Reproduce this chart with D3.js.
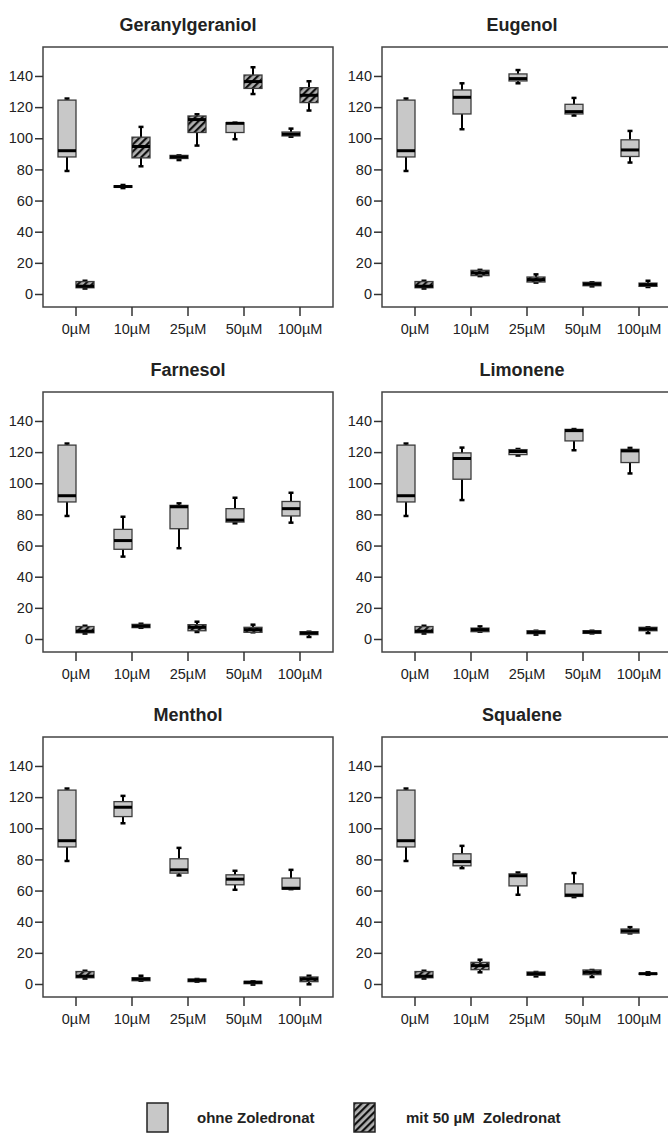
<!DOCTYPE html>
<html>
<head>
<meta charset="utf-8">
<script src="https://cdn.jsdelivr.net/npm/d3@7"></script>
<style>
body { margin: 0; background: #fff; }
svg { display: block; font-family: "Liberation Sans", Arial, sans-serif; }
</style>
</head>
<body>
<svg id="chart" width="668" height="1135"></svg>
<script>
// categories
var doses = ["0µM", "10µM", "25µM", "50µM", "100µM"],
	titles = ["Geranylgeraniol", "Eugenol", "Farnesol", "Limonene", "Menthol", "Squalene"],
	yTicks = [0, 20, 40, 60, 80, 100, 120, 140];

// box values per dose: [min, q1, median, q3, max]
// "ohne" = ohne Zoledronat (grey), "mit" = mit 50 µM Zoledronat (hatched)
var geranylOhne = [[79, 88, 92, 124.5, 125.5], [68, 68.5, 69, 69.5, 70], [86, 87, 88, 89, 89], [99.4, 103.7, 109.6, 110, 110], [101, 101.5, 102.6, 104, 106.2]],
	geranylMit = [[3.5, 4, 5, 8, 8.5], [82, 87.4, 94.7, 100.7, 107.3], [95.3, 103.7, 112, 114.3, 115.4], [128.4, 132, 136.4, 140.6, 145.6], [117.8, 122.9, 127.6, 132.5, 136.6]];

var eugenolOhne = [[79, 88, 92, 124.5, 125.5], [105.8, 115.6, 126.3, 131, 135.3], [135.3, 136.8, 138.3, 141.3, 143.8], [114.6, 115.6, 117.1, 121.8, 125.9], [84.4, 88.3, 92.5, 99, 104.7]],
	eugenolMit = [[3.5, 4, 5, 8, 8.5], [11.5, 11.8, 13.5, 15.2, 15.5], [7.3, 7.7, 9.2, 10.9, 12.6], [4.9, 5.3, 6.4, 7.5, 7.5], [4.5, 4.9, 6, 7, 8.5]];

var farnesolOhne = [[79, 88, 92, 124.5, 125.5], [52.9, 57.6, 63.2, 70.4, 78.5], [58.3, 70.8, 84.9, 85.8, 87.1], [74.3, 75.1, 76.4, 83.7, 90.7], [74.7, 79, 83.7, 88.3, 93.9]],
	farnesolMit = [[3.5, 4, 5, 8, 8.5], [7.2, 7.3, 8.3, 9.4, 9.8], [4.5, 5.3, 7.5, 9.2, 11.1], [4.3, 4.3, 6, 7.5, 9.2], [1.3, 2.8, 3.8, 4.7, 4.7]];

var limoneneOhne = [[79, 88, 92, 124.5, 125.5], [89.2, 102.6, 115.9, 119.5, 122.9], [117.8, 118.4, 120.4, 121.6, 122], [121.2, 127.2, 133.8, 134.6, 134.8], [106.3, 113.3, 120.8, 121.8, 122.7]],
	limoneneMit = [[3.5, 4, 5, 8, 8.5], [4.7, 4.7, 6, 7, 8.1], [2.8, 3.4, 4.3, 5.3, 5.3], [3.6, 3.6, 4.5, 5.3, 5.3], [3.8, 5.3, 6.4, 7.5, 7.5]];

var mentholOhne = [[79, 88, 92, 124.5, 125.5], [103.2, 107.5, 113.5, 117.1, 120.8], [69.7, 71.2, 73.3, 80.4, 87.4], [60.5, 63.7, 67.3, 70.1, 72.7], [60.9, 60.9, 61.5, 68, 73.3]],
	mentholMit = [[3.5, 4, 5, 8, 8.5], [2.1, 2.1, 3.2, 4, 5.3], [1.5, 1.5, 2.4, 3.2, 3.2], [-0.4, 0.2, 1.1, 1.7, 1.7], [-0.2, 1.5, 3.2, 4.5, 5.3]];

var squaleneOhne = [[79, 88, 92, 124.5, 125.5], [74.4, 75.9, 78.6, 83.6, 88.7], [57.3, 63, 69.5, 70.7, 71.6], [55.8, 56.2, 57.1, 64.3, 71.2], [32.5, 32.7, 34, 35.3, 36.5]],
	squaleneMit = [[3.5, 4, 5, 8, 8.5], [7.5, 9.2, 11.8, 13.9, 15.6], [4.9, 5.6, 6.6, 7.7, 7.7], [4.5, 6, 7.5, 9, 9], [6, 6.2, 6.6, 7, 7.5]];

var ohneSets = [geranylOhne, eugenolOhne, farnesolOhne, limoneneOhne, mentholOhne, squaleneOhne],
	mitSets = [geranylMit, eugenolMit, farnesolMit, limoneneMit, mentholMit, squaleneMit];

// layout params
var colLeft = [43, 382],
	rowTop = [47, 392, 737],
	frameW = 290,
	frameH = 260,
	boxW = 18,
	capW = 5,
	greyFill = "#c8c8c8",
	boxStroke = "#3c3c3c";

var svg = d3.select("#chart");

// hatch pattern for the "mit Zoledronat" boxes
var defs = svg.append("defs");
var pat = defs.append("pattern")
	.attr("id", "hatch")
	.attr("patternUnits", "userSpaceOnUse")
	.attr("width", 5)
	.attr("height", 5)
	.attr("patternTransform", "rotate(45)");
pat.append("rect").attr("width", 5).attr("height", 5).attr("fill", "#b0b0b0");
pat.append("line")
	.attr("x1", 1).attr("y1", 0).attr("x2", 1).attr("y2", 5)
	.attr("stroke", "#111").attr("stroke-width", 2.4);

var drawBox = function(g, cx, d, y, fill) {
	var x0 = cx - boxW / 2;
	// whiskers
	g.append("line")
		.attr("x1", cx).attr("x2", cx)
		.attr("y1", y(d[0])).attr("y2", y(d[1]))
		.attr("stroke", "#000").attr("stroke-width", 2);
	g.append("line")
		.attr("x1", cx).attr("x2", cx)
		.attr("y1", y(d[3])).attr("y2", y(d[4]))
		.attr("stroke", "#000").attr("stroke-width", 2);
	[d[0], d[4]].forEach(function(v) {
		g.append("line")
			.attr("x1", cx - capW / 2).attr("x2", cx + capW / 2)
			.attr("y1", y(v)).attr("y2", y(v))
			.attr("stroke", "#000").attr("stroke-width", 2.5);
	});
	// box
	g.append("rect")
		.attr("x", x0)
		.attr("y", y(d[3]))
		.attr("width", boxW)
		.attr("height", Math.max(y(d[1]) - y(d[3]), 1))
		.attr("fill", fill)
		.attr("stroke", boxStroke)
		.attr("stroke-width", 1.3);
	// median
	g.append("line")
		.attr("x1", x0).attr("x2", x0 + boxW)
		.attr("y1", y(d[2])).attr("y2", y(d[2]))
		.attr("stroke", "#000").attr("stroke-width", 3);
};

titles.forEach(function(title, i) {
	var col = i % 2,
		row = Math.floor(i / 2),
		left = colLeft[col],
		top = rowTop[row],
		bottom = top + frameH;

	var x = d3.scaleBand().domain(doses).range([left + 5, left + frameW - 5]);
	var y = d3.scaleLinear().domain([-8.35, 158.6]).range([bottom, top]);

	var g = svg.append("g").attr("class", "panel");

	// title
	g.append("text")
		.attr("x", col == 0 ? 188 : 522)
		.attr("y", top - 16)
		.attr("text-anchor", "middle")
		.attr("font-size", 18)
		.attr("font-weight", "bold")
		.attr("fill", "#222")
		.text(title);

	// frame
	g.append("rect")
		.attr("x", left).attr("y", top)
		.attr("width", frameW).attr("height", frameH)
		.attr("fill", "none")
		.attr("stroke", "#444")
		.attr("stroke-width", 1.5);

	// axes
	var yAxis = g.append("g")
		.attr("transform", "translate(" + left + ",0)")
		.call(d3.axisLeft(y).tickValues(yTicks).tickSize(8).tickPadding(2));
	var xAxis = g.append("g")
		.attr("transform", "translate(0," + bottom + ")")
		.call(d3.axisBottom(x).tickSize(9).tickPadding(8));
	[yAxis, xAxis].forEach(function(a) {
		a.select(".domain").remove();
		a.selectAll("line").attr("stroke", "#333").attr("stroke-width", 1.5);
		a.selectAll("text")
			.attr("font-size", 14.5)
			.attr("font-family", "Liberation Sans, Arial, sans-serif")
			.attr("fill", "#222");
	});

	// boxes
	doses.forEach(function(dose, k) {
		var c = x(dose) + x.bandwidth() / 2;
		drawBox(g, c - boxW / 2, ohneSets[i][k], y, greyFill);
		drawBox(g, c + boxW / 2, mitSets[i][k], y, "url(#hatch)");
	});
});

// legend
var legend = svg.append("g").attr("class", "legend");
legend.append("rect")
	.attr("x", 147).attr("y", 1103).attr("width", 21).attr("height", 29)
	.attr("fill", greyFill).attr("stroke", "#222").attr("stroke-width", 1.5);
legend.append("text")
	.attr("x", 197).attr("y", 1123)
	.attr("font-size", 15).attr("font-weight", "bold").attr("fill", "#222")
	.text("ohne Zoledronat");
legend.append("rect")
	.attr("x", 354).attr("y", 1103).attr("width", 21).attr("height", 29)
	.attr("fill", "url(#hatch)").attr("stroke", "#222").attr("stroke-width", 1.5);
legend.append("text")
	.attr("x", 406).attr("y", 1123)
	.attr("font-size", 15).attr("font-weight", "bold").attr("fill", "#222")
	.style("white-space", "pre")
	.text("mit 50 µM  Zoledronat");
</script>
</body>
</html>
